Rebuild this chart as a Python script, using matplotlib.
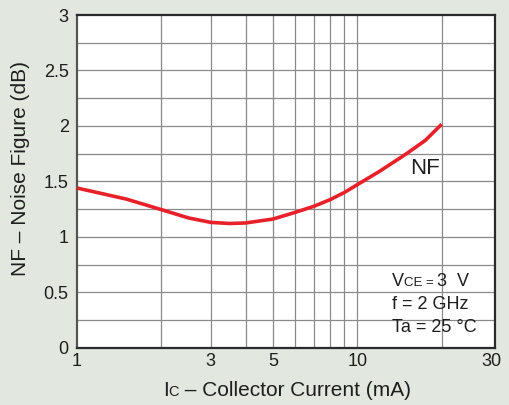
import matplotlib
matplotlib.use("Agg")
import matplotlib.pyplot as plt
from matplotlib.ticker import FixedLocator, NullFormatter, FixedFormatter

plt.rcParams['font.family'] = ['Liberation Sans', 'DejaVu Sans']

# Data
ic = [1, 1.5, 2, 2.5, 3, 3.5, 4, 5, 6, 7, 8, 9, 10, 12, 15, 17.5, 20]
nf = [1.44, 1.34, 1.245, 1.17, 1.13, 1.12, 1.125, 1.16, 1.22, 1.275, 1.335,
      1.40, 1.47, 1.59, 1.75, 1.87, 2.015]
x_ticks = [1, 3, 5, 10, 30]
x_ticklabels = ['1', '3', '5', '10', '30']
x_grid = [2, 3, 4, 5, 6, 7, 8, 9, 10, 20]
y_ticks = [0, 0.5, 1, 1.5, 2, 2.5, 3]
y_ticklabels = ['0', '0.5', '1', '1.5', '2', '2.5', '3']
y_grid = [0.25, 0.5, 0.75, 1, 1.25, 1.5, 1.75, 2, 2.25, 2.5, 2.75]
conditions = [[('V', 13), ('CE = ', 9.5), ('3  V', 13)],
              [('f = 2 GHz', 13)],
              [('Ta = 25 °C', 13)]]

W, H = 509, 405
BG = '#e2e8e0'
TXT = '#1e1e1e'
fig = plt.figure(figsize=(W / 100, H / 100), dpi=100, facecolor=BG)
L, R, T, B = 77, 495, 15, 347.7
ax = fig.add_axes([L / W, (H - B) / H, (R - L) / W, (B - T) / H])
ax.set_facecolor('white')
ax.set_xscale('log')
ax.set_xlim(1, 31)
ax.set_ylim(0, 3)

for xv in x_grid:
    ax.axvline(xv, color='#8a8a8a', lw=0.9, zorder=1)
for yv in y_grid:
    ax.axhline(yv, color='#8a8a8a', lw=0.9, zorder=1)

ax.plot(ic, nf, color='#e8202a', lw=2.6, solid_capstyle='butt',
        solid_joinstyle='round', zorder=3)

ax.xaxis.set_major_locator(FixedLocator(x_ticks))
ax.xaxis.set_major_formatter(FixedFormatter(x_ticklabels))
ax.xaxis.set_minor_locator(FixedLocator([]))
ax.xaxis.set_minor_formatter(NullFormatter())
ax.yaxis.set_major_locator(FixedLocator(y_ticks))
ax.yaxis.set_major_formatter(FixedFormatter(y_ticklabels))
ax.tick_params(axis='both', length=0, labelsize=13, colors=TXT)
ax.tick_params(axis='x', pad=4)
ax.tick_params(axis='y', pad=6)

for s in ['top', 'right', 'bottom']:
    ax.spines[s].set_color('#2a2a2a')
    ax.spines[s].set_linewidth(1.6)
ax.spines['left'].set_color('#555555')
ax.spines['left'].set_linewidth(1.6)

fig.canvas.draw()
renderer = fig.canvas.get_renderer()


def pieces(x_px, y_px, parts, ha='left'):
    # draw consecutive text pieces on a common baseline (figure pixel coords from top)
    texts = []
    widths = []
    for s, size in parts:
        t = fig.text(0, 0, s, fontsize=size, color=TXT, va='baseline', ha='left')
        widths.append(t.get_window_extent(renderer).width)
        texts.append(t)
    total = sum(widths)
    x0 = x_px - (total / 2 if ha == 'center' else 0)
    for t, w in zip(texts, widths):
        t.set_position((x0 / W, (H - y_px) / H))
        x0 += w


# NF label on curve
pieces(410, 173.5, [('NF', 16)])

# conditions box text
for i, parts in enumerate(conditions):
    pieces(392, 286.5 + i * 22.5, parts)

# axis labels
pieces(287, 396, [('I', 15), ('C', 10.5), (' – Collector Current (mA)', 15)], ha='center')
fig.text(21 / W, (H - 168) / H, 'NF – Noise Figure (dB)', rotation=90, fontsize=15,
         color=TXT, ha='center', va='center')

fig.savefig('out.png', dpi=100, facecolor=BG)
